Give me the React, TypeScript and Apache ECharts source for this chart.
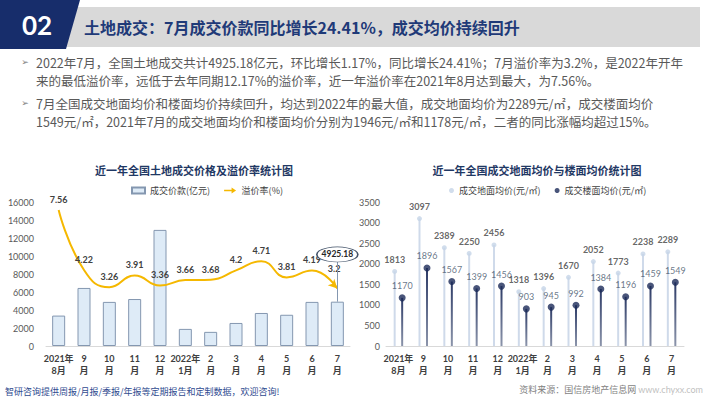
import React, { useEffect, useRef } from "react";
import * as echarts from "echarts";

const categories = ["2021年\n8月", "9\n月", "10\n月", "11\n月", "12\n月", "2022年\n1月", "2\n月", "3\n月", "4\n月", "5\n月", "6\n月", "7\n月"];
const landDeal = [3380, 6450, 4900, 5220, 12900, 1900, 1570, 2560, 3670, 3470, 4900, 4925.18];
const premiumRate = [7.56, 4.22, 3.26, 3.91, 3.36, 3.66, 3.68, 4.2, 4.71, 3.81, 4.19, 3.2];
const landPrice = [1813, 3097, 2389, 2250, 2456, 1318, 1396, 1670, 2052, 1773, 2238, 2289];
const floorPrice = [1170, 1896, 1567, 1399, 1456, 903, 945, 992, 1384, 1196, 1459, 1549];

const bodyLines = [
  "2022年7月，全国土地成交共计4925.18亿元，环比增长1.17%，同比增长24.41%；7月溢价率为3.2%，是2022年开年",
  "来的最低溢价率，远低于去年同期12.17%的溢价率，近一年溢价率在2021年8月达到最大，为7.56%。",
  "7月全国成交地面均价和楼面均价持续回升，均达到2022年的最大值，成交地面均价为2289元/㎡，成交楼面均价",
  "1549元/㎡，2021年7月的成交地面均价和楼面均价分别为1946元/㎡和1178元/㎡，二者的同比涨幅均超过15%。",
];

const CJK = '"Noto Sans CJK SC", sans-serif';
const NUM = 'Lato, "Noto Sans CJK SC", sans-serif';
const LINE_COLOR = "#f5b800";

export default function App() {
  const ref = useRef<HTMLDivElement>(null);
  useEffect(() => {
    if (!ref.current) return;
    const chart = echarts.init(ref.current, null, { renderer: "svg" });
    const lastIdx = premiumRate.length - 1;
    const lineData: any[] = premiumRate.map((v, i) =>
      i === lastIdx
        ? { value: v, symbol: "arrow", symbolSize: [7, 9], symbolRotate: -135, itemStyle: { color: LINE_COLOR } }
        : v
    );
    const lineY = [62, 80, 103, 121];
    const option: any = {
      animation: false,
      backgroundColor: "#fff",
      textStyle: { fontFamily: CJK },
      graphic: [
        { type: "rect", shape: { x: 60, y: 7, width: 640, height: 40 }, style: { fill: "#d9d9d9" } },
        { type: "polygon", shape: { points: [[0, 0], [80, 0], [66, 49], [0, 49]] }, style: { fill: "#172d6b" } },
        { type: "text", x: 37, y: 25, style: { text: "02", fill: "#fff", font: `bold 26px ${NUM}`, textAlign: "center", textVerticalAlign: "middle" } },
        { type: "text", x: 84, y: 27, style: { text: "土地成交：7月成交价款同比增长24.41%，成交均价持续回升", fill: "#1f3a78", font: `bold 16px ${CJK}`, textVerticalAlign: "middle" } },
        ...[0, 2].map((i) => ({ type: "text", x: 25, y: lineY[i], style: { text: "➢", fill: "#7f7f7f", font: "9px 'DejaVu Sans'", textAlign: "center", textVerticalAlign: "middle" } })),
        ...bodyLines.map((t, i) => ({ type: "text", x: 36, y: lineY[i], style: { text: t, fill: "#595959", font: `12.5px ${CJK}`, lineHeight: 14, textVerticalAlign: "middle" } })),
        { type: "text", x: 5, y: 391, style: { text: "智研咨询提供周报/月报/季报/年报等定期报告和定制数据，欢迎咨询!", fill: "#2f4b8f", font: `9px ${CJK}`, textVerticalAlign: "middle" } },
        { type: "text", x: 703, y: 389, style: { text: "资料来源：国信房地产信息网 {w|www.chyxx.com}", fill: "#7f7f7f", font: `9px ${CJK}`, textAlign: "right", textVerticalAlign: "middle", rich: { w: { fill: "#bfbfbf", font: `9px ${NUM}` } } } },
      ],
      title: [
        { text: "近一年全国土地成交价格及溢价率统计图", left: 189, top: 159, textAlign: "center", textStyle: { fontSize: 11, fontWeight: "bold", color: "#1f3864", fontFamily: CJK } },
        { text: "近一年全国成交地面均价与楼面均价统计图", left: 532, top: 159, textAlign: "center", textStyle: { fontSize: 11, fontWeight: "bold", color: "#1f3864", fontFamily: CJK } },
      ],
      legend: [
        {
          left: 126, top: 181, itemGap: 14, itemWidth: 13, itemHeight: 6,
          textStyle: { fontSize: 9, color: "#404040", fontFamily: CJK },
          data: [
            { name: "成交价款(亿元)", icon: "rect" },
            { name: "溢价率(%)", icon: "path://M0,4 L10,4 L10,1 L16,5 L10,9 L10,6 L0,6 Z", itemStyle: { color: LINE_COLOR } },
          ],
        },
        {
          left: 444, top: 181, itemGap: 14, itemWidth: 5, itemHeight: 5,
          textStyle: { fontSize: 9, color: "#404040", fontFamily: CJK },
          data: [
            { name: "成交地面均价(元/㎡)", icon: "circle" },
            { name: "成交楼面均价(元/㎡)", icon: "circle" },
          ],
        },
      ],
      grid: [
        { left: 46, width: 304, top: 202, height: 144 },
        { left: 386, width: 298, top: 202, height: 144 },
      ],
      xAxis: [0, 1].map((g) => ({
        type: "category", gridIndex: g, data: categories,
        axisTick: { show: false },
        axisLine: { lineStyle: { color: "#d9d9d9" } },
        axisLabel: { interval: 0, fontSize: 9, fontWeight: "bold", color: "#404040", lineHeight: 12, margin: 6, fontFamily: NUM },
      })),
      yAxis: [
        { type: "value", gridIndex: 0, min: 0, max: 16000, interval: 2000, splitLine: { show: false }, axisLabel: { fontSize: 9, color: "#595959", fontFamily: NUM, margin: 12, formatter: (v: number) => String(v) } },
        { type: "value", gridIndex: 0, min: 0, max: 8, show: false, splitLine: { show: false } },
        { type: "value", gridIndex: 1, min: 0, max: 3500, interval: 500, splitLine: { show: false }, axisLabel: { fontSize: 9, color: "#595959", fontFamily: NUM, margin: 6, formatter: (v: number) => String(v) } },
      ],
      series: [
        {
          name: "成交价款(亿元)", type: "bar", xAxisIndex: 0, yAxisIndex: 0, data: landDeal, barWidth: 13,
          itemStyle: { color: "#deebf7", borderColor: "#8497b0", borderWidth: 1 },
          markLine: {
            silent: true, symbol: "none", label: { show: false },
            lineStyle: { color: "#8497b0", width: 1, type: "solid" },
            data: [[{ coord: [categories[11], landDeal[11]] }, { coord: [categories[11], 9330] }]],
          },
          markPoint: {
            silent: true, symbol: "circle", symbolSize: [41, 15],
            itemStyle: { color: "#fff", borderColor: "#44546a", borderWidth: 1 },
            label: { show: true, formatter: String(landDeal[11]), fontSize: 8.5, fontWeight: "bold", color: "#262626", fontFamily: NUM },
            data: [{ coord: [categories[11], 10170], value: landDeal[11] }],
          },
        },
        {
          name: "溢价率(%)", type: "line", xAxisIndex: 0, yAxisIndex: 1, data: lineData, smooth: 0.5,
          symbol: "circle", symbolSize: 0.5, showSymbol: true, z: 3,
          color: LINE_COLOR, lineStyle: { color: LINE_COLOR, width: 2 },
          itemStyle: { color: "rgba(245,184,0,0)" },
          label: { show: true, position: "top", distance: 6, fontSize: 9, fontWeight: "bold", color: "#404040", fontFamily: NUM },
        },
        {
          name: "地面均价柱", type: "bar", xAxisIndex: 1, yAxisIndex: 2, data: landPrice, barWidth: 2, barGap: "275%",
          itemStyle: { color: "#cfdaea" }, silent: true,
        },
        {
          name: "楼面均价柱", type: "bar", xAxisIndex: 1, yAxisIndex: 2, data: floorPrice, barWidth: 2,
          itemStyle: { color: new echarts.graphic.LinearGradient(0, 0, 0, 1, [{ offset: 0, color: "#2c3a66" }, { offset: 1, color: "#8c95ab" }]) }, silent: true,
        },
        {
          name: "成交地面均价(元/㎡)", type: "scatter", xAxisIndex: 1, yAxisIndex: 2, data: landPrice,
          symbolSize: 5, symbolOffset: [-3.75, 0], itemStyle: { color: "#c6d4e7" },
          label: { show: true, position: "top", distance: 5, fontSize: 9, fontWeight: "bold", color: "#404040", fontFamily: NUM },
        },
        {
          name: "成交楼面均价(元/㎡)", type: "scatter", xAxisIndex: 1, yAxisIndex: 2, data: floorPrice,
          symbolSize: 7, symbolOffset: [3.75, 0], itemStyle: { color: "#1c2a59" },
          label: { show: true, position: "top", distance: 4, fontSize: 9, color: "#44546a", fontFamily: NUM },
        },
      ],
    };
    chart.setOption(option);
    return () => chart.dispose();
  }, []);
  return <div ref={ref} style={{ position: "absolute", left: 0, top: 0, width: 710, height: 399 }} />;
}
